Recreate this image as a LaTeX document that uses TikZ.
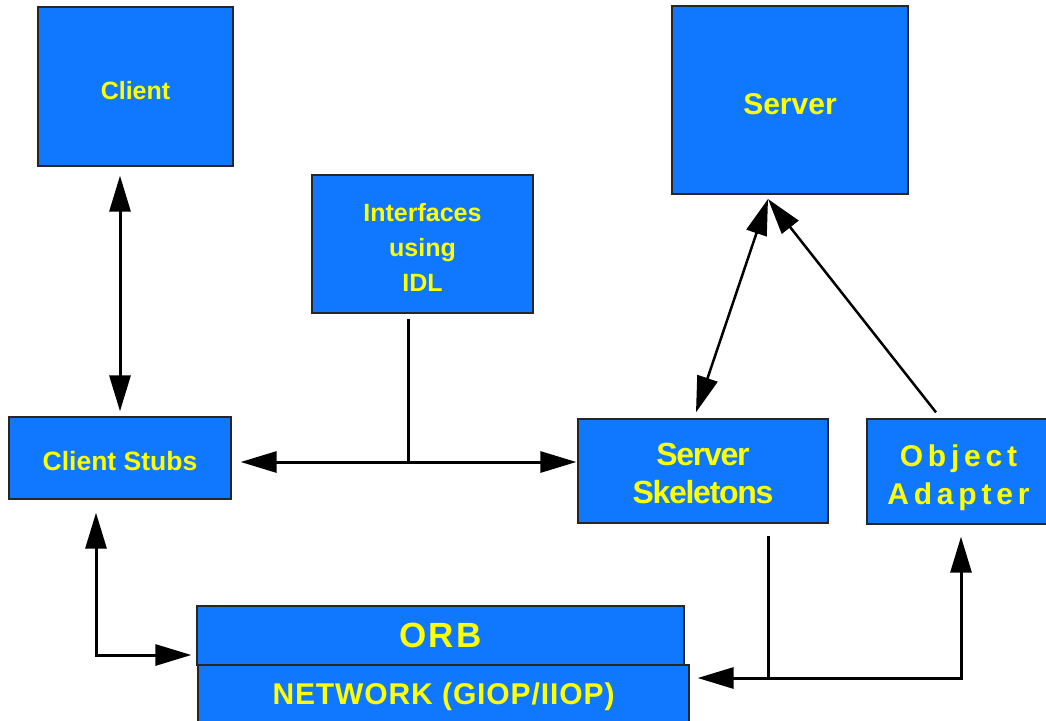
\documentclass[tikz,border=0pt]{standalone}
\usepackage{fontspec}
\setmainfont{Liberation Sans}
\usetikzlibrary{arrows.meta,calc}
\definecolor{corbablue}{HTML}{1078FF}
\definecolor{labelyellow}{HTML}{FFFF00}
\tikzset{
  block/.style={draw=black!85, line width=1.3pt, fill=corbablue, text=labelyellow, align=center, inner sep=0pt},
  link/.style={line width=3pt},
  slant/.style={line width=2.5pt}
}
% lower a line of box text a little, keeping its size
\newcommand{\sink}[2]{\raisebox{-#1pt}[\height][\depth]{#2}}

\begin{document}
\begin{tikzpicture}[x=1pt,y=-1pt,>={Triangle[length=36pt,width=21pt]}]
\useasboundingbox (0,0) rectangle (1046,720);

% application side
\node[block, minimum width=195pt, minimum height=159pt, font=\bfseries\fontsize{25}{30}\selectfont] (client) at (135.5,86.5) {\sink{4}{Client}};
\node[block, minimum width=236pt, minimum height=188pt, font=\bfseries\fontsize{30}{36}\selectfont] (server) at (790,100) {\sink{4}{Server}};
\node[block, minimum width=221pt, minimum height=138pt, font=\bfseries\fontsize{25}{35}\selectfont] (idl) at (422.5,244) {\sink{3}{Interfaces}\\\sink{3}{using}\\\sink{3}{IDL}};

% generated code and adapter
\node[block, minimum width=222pt, minimum height=82pt, font=\bfseries\fontsize{26.5}{30}\selectfont] (stubs) at (120,458) {\sink{3}{Client Stubs}};
\node[block, minimum width=250pt, minimum height=104pt, font=\bfseries\fontsize{32}{38}\selectfont\addfontfeature{LetterSpace=-4}] (skel) at (703,471) {\sink{2.5}{Server}\\\sink{2.5}{Skeletons}};
\node[block, minimum width=183pt, minimum height=105pt, font=\bfseries\fontsize{30}{38}\selectfont\addfontfeature{LetterSpace=16}] (oa) at (958.5,471.5) {\sink{6}{Object}\\\sink{6}{Adapter}};

% broker layers
\node[block, minimum width=487pt, minimum height=59pt, font=\bfseries\fontsize{35}{40}\selectfont\addfontfeature{LetterSpace=6}] (orb) at (440.5,635.5) {ORB};
\node[block, minimum width=491pt, minimum height=60pt, font=\bfseries\fontsize{30}{36}\selectfont\addfontfeature{LetterSpace=3}] (net) at (443.5,695) {\sink{2}{NETWORK (GIOP/IIOP)}};

% client <-> stubs
\draw[link,<->,shorten <=9pt,shorten >=5pt] (stubs.north |- client.south) -- (stubs.north);

% IDL feeds stubs and skeletons
\coordinate (tee) at (408,462);
\draw[link,shorten <=5pt] (idl.south -| tee) -- (tee);
\draw[link,<->,shorten <=9pt,shorten >=1pt] (stubs.east |- tee) -- (skel.west |- tee);

% up to the server
\coordinate (srvtip) at (768,199);
\draw[slant,<->] (srvtip) -- ($(skel.north)+(-7,-6)$);
\draw[slant,->] ($(oa.north)+(-22.5,-6)$) -- (srvtip);

% stubs <-> ORB
\draw[link,<->] ($(stubs.south)+(-24,13)$) |- ($(orb.west)+(-5,19.5)$);

% adapter / skeletons <-> network
\draw[link,<->] ($(oa.south)+(2.5,12)$) |- ($(net.east)+(8,-17)$);
\draw[link] ($(skel.south)+(65,12)$) -- ++(0,143);
\end{tikzpicture}
\end{document}
